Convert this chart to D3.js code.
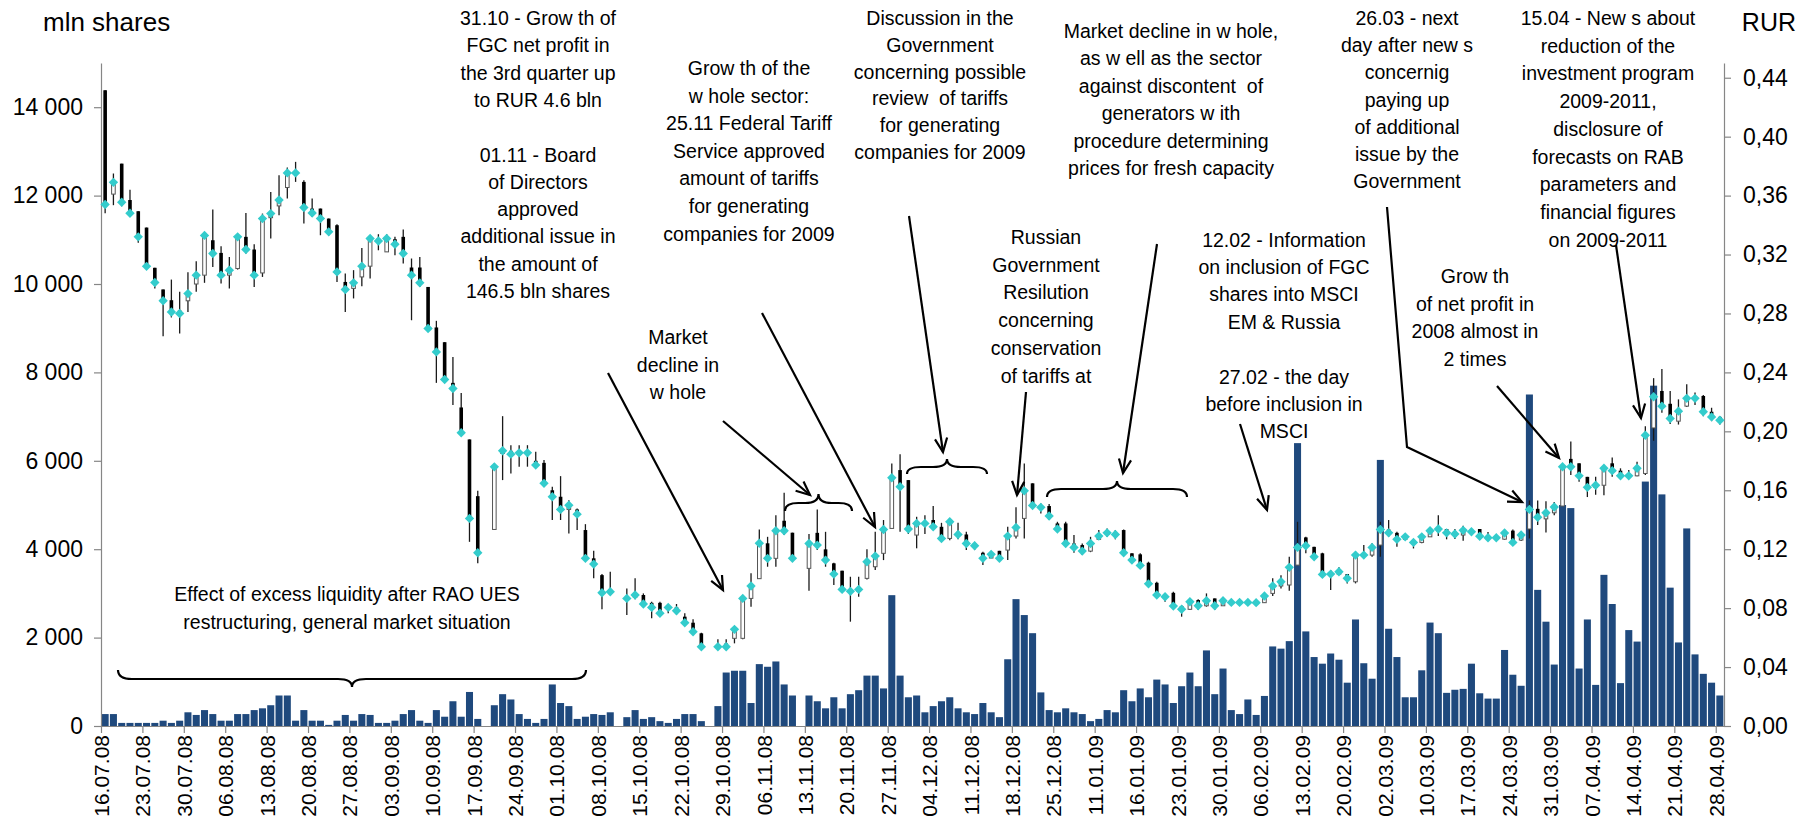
<!DOCTYPE html>
<html><head><meta charset="utf-8">
<script src="https://cdn.jsdelivr.net/npm/d3@7"></script>
<style>
html,body{margin:0;padding:0;background:#fff;}
svg{display:block;font-family:"Liberation Sans",Arial,sans-serif;}
</style></head><body>
<svg id="c" width="1805" height="821"></svg>
<script>
// ---------------- DATA ----------------
const tickLabels = ["16.07.08","23.07.08","30.07.08","06.08.08","13.08.08","20.08.08","27.08.08","03.09.08","10.09.08","17.09.08","24.09.08","01.10.08","08.10.08","15.10.08","22.10.08","29.10.08","06.11.08","13.11.08","20.11.08","27.11.08","04.12.08","11.12.08","18.12.08","25.12.08","11.01.09","16.01.09","23.01.09","30.01.09","06.02.09","13.02.09","20.02.09","02.03.09","10.03.09","17.03.09","24.03.09","31.03.09","07.04.09","14.04.09","21.04.09","28.04.09"];
const leftTicks = [0,2000,4000,6000,8000,10000,12000,14000];
const rightTicks = [0,0.04,0.08,0.12,0.16,0.20,0.24,0.28,0.32,0.36,0.40,0.44];

// trading volume, mln shares (null = trading suspended)
const volume = [
270,270,70,70,70,70,70,120,70,120,
310,250,360,270,120,120,270,270,360,400,
470,690,690,120,360,120,120,25,120,250,
120,270,250,70,70,120,270,360,120,70,
360,210,560,210,770,160,null,470,720,600,
270,160,70,160,940,520,450,160,210,270,
250,310,null,200,360,160,200,110,70,160,
270,270,110,null,450,1210,1250,1250,520,1400,
1340,1460,940,690,null,690,560,400,650,400,
720,810,1140,1140,850,2960,1140,650,690,310,
450,560,650,400,310,270,520,310,200,1510,
2870,2510,2100,760,360,310,400,310,270,110,
160,360,310,810,560,850,650,1050,940,520,
900,1210,900,1710,720,1300,360,270,600,250,
680,1800,1750,1920,6400,2140,1560,1410,1640,1500,
980,2410,1420,1070,6020,2200,1560,650,650,1260,
2340,2100,750,820,840,1410,740,620,620,1720,
1160,910,7500,3080,2360,1390,5000,4930,1300,2410,
930,3420,2760,970,2170,1910,5530,7700,5240,3130,
1890,4470,1620,1180,980,690];

// share price, RUR
const priceOpen = [
.4315,.361,.3817,.357,.3494,.3383,.311,.2963,.289,.282,
.2886,.300,.306,.3297,.3211,.306,.3105,.332,.3234,.3075,
.345,.353,.3655,.3754,.3693,.3512,.3512,.3444,.3399,.3014,
.297,.3048,.3121,.3309,.3218,.3304,.332,.3112,.3112,.298,
.2705,.2605,.2329,.2162,.1945,.156,null,.1334,.185,.1868,
.1845,.1854,.18,.1786,.16,.1556,.147,.147,.133,.1138,
.1024,.0904,null,.0882,.0875,.0889,.0836,.0836,.080,.0805,
.0742,.0701,.0629,null,.0538,.056,.0595,.0595,.0866,.100,
.124,.1138,.1393,.1312,null,.107,.1311,.1199,.1104,.1054,
.0923,.0914,.1002,.1081,.1172,.1341,.1737,.1669,.1296,.1375,
.1398,.1352,.1273,.1318,.13,.1239,.1176,.114,.1189,.1194,
.1289,.1409,.1647,.1497,.1493,.1375,.1375,.1239,.1228,.1187,
.1267,.13,.1311,.133,.1172,.1165,.1108,.0972,.0889,.0904,
.0814,.0792,.0855,.0816,.0866,.0816,.085,.0839,.0839,.0837,
.0837,.09,.095,.0957,.1092,.128,.1216,.1172,.1029,.1031,
.1031,.0979,.116,.116,.1228,.1334,.1311,.1267,.1262,.1246,
.1284,.1325,.1337,.1311,.1296,.1328,.1337,.128,.1268,.1268,
.1326,.1262,.1337,.1474,.1406,.1447,.1493,.1813,.1783,.1691,
.162,.1634,.1783,.1733,.1698,.1698,.1714,.2023,.2274,.2187,
.2069,.2171,.2224,.224,.2133,.2098];
const priceHigh = [
.4315,.375,.3817,.364,.3494,.3383,.311,.2963,.303,.2947,
.308,.3155,.3343,.3505,.3256,.3184,.3338,.3482,.327,.3478,
.3625,.3738,.379,.3829,.3704,.358,.3512,.3444,.3406,.3071,
.3094,.3245,.332,.3338,.3338,.332,.337,.3173,.3184,.298,
.275,.2605,.2505,.2261,.1945,.1596,null,.1782,.2103,.1906,
.1906,.1906,.1861,.1805,.1624,.1696,.1533,.1477,.137,.1189,
.1031,.1047,null,.0934,.1002,.09,.0843,.0843,.0821,.0828,
.0765,.0724,.0633,null,.0588,.0588,.0674,.0889,.1036,.1334,
.1284,.1431,.1583,.1312,null,.1303,.147,.1318,.1108,.1054,
.1013,.1013,.1199,.1318,.1398,.1782,.1845,.1669,.142,.1431,
.1493,.1379,.1409,.1379,.1318,.125,.1183,.1183,.1189,.1352,
.1484,.1782,.1647,.1511,.1506,.1386,.1386,.1296,.1239,.1284,
.133,.1341,.133,.1334,.1172,.1172,.1115,.0979,.09,.0911,
.0821,.0866,.086,.09,.0866,.0873,.0855,.0855,.0855,.085,
.09,.1002,.1024,.1149,.1386,.1284,.1216,.1176,.1058,.1077,
.1031,.1183,.1228,.124,.1386,.1398,.1318,.130,.1262,.1307,
.1341,.1431,.1337,.1337,.136,.1337,.1337,.1317,.129,.1333,
.1333,.1317,.1531,.1531,.1525,.152,.177,.1931,.1783,.1691,
.1691,.1771,.1822,.1749,.1737,.1794,.2034,.2361,.2423,.2274,
.2217,.232,.2263,.2247,.216,.2103];
const priceLow = [
.348,.3535,.3528,.3455,.328,.3105,.297,.2646,.2773,.2664,
.281,.2947,.3008,.3116,.3003,.297,.3098,.3207,.298,.3048,
.3309,.3467,.358,.3693,.341,.3455,.3331,.333,.3014,.281,
.2902,.2985,.3037,.3229,.3218,.3195,.3139,.2754,.298,.2698,
.2329,.2336,.2178,.1986,.125,.1104,null,.1334,.1669,.1714,
.1759,.176,.1759,.1624,.1398,.1398,.1307,.133,.1126,.1002,
.0792,.0889,null,.0753,.086,.0814,.0731,.0742,.0765,.0758,
.0678,.0617,.0516,null,.0516,.0516,.0561,.0589,.0809,.100,
.1081,.1081,.1296,.1138,null,.0918,.1194,.1081,.0957,.0914,
.0708,.0877,.0995,.1058,.1126,.1341,.1318,.1303,.1206,.1303,
.133,.1262,.126,.1267,.1194,.1194,.1092,.114,.1121,.1126,
.1273,.1273,.1477,.1443,.1398,.1318,.1239,.1176,.116,.118,
.1262,.1284,.1267,.116,.1108,.107,.0957,.0877,.0843,.0792,
.0742,.0787,.0787,.081,.0787,.0816,.0821,.0821,.0821,.082,
.0837,.0882,.0934,.0918,.1092,.1172,.1126,.1029,.0923,.1031,
.0968,.0968,.1149,.1149,.1149,.1284,.1216,.1262,.1205,.124,
.1284,.1289,.1267,.127,.1257,.1296,.1264,.1257,.1257,.1265,
.1223,.1255,.1273,.1365,.1314,.143,.1493,.1703,.1657,.1554,
.157,.1566,.1691,.168,.168,.1695,.1703,.1936,.2126,.205,
.2046,.2165,.2178,.2103,.2069,.2046];
const priceClose = [
.354,.369,.3555,.348,.332,.312,.301,.2886,.281,.280,
.2935,.306,.333,.3207,.306,.3094,.332,.3234,.306,.3444,
.3478,.357,.3754,.3754,.3519,.3482,.3444,.3354,.3082,.2963,
.3008,.3121,.3309,.3292,.3309,.327,.3207,.306,.3008,.2698,
.2539,.2352,.2291,.199,.1409,.1176,null,.1759,.1868,.1845,
.1854,.1854,.1771,.1647,.1556,.147,.1499,.1438,.1138,.1099,
.0904,.0911,null,.0866,.0889,.0828,.0805,.0765,.0805,.0782,
.0701,.064,.0538,null,.0538,.0538,.0656,.0866,.095,.124,
.1138,.1325,.1325,.1138,null,.1239,.1228,.1126,.1031,.0927,
.0914,.0927,.1115,.1153,.1334,.1685,.1624,.1337,.1375,.1375,
.1352,.1273,.1386,.13,.1239,.1223,.1138,.1165,.1138,.1289,
.1348,.1596,.1497,.1484,.1425,.1337,.1239,.1212,.1187,.1239,
.1289,.1311,.13,.1176,.1126,.109,.0965,.0889,.0877,.0814,
.0792,.0843,.0816,.085,.0816,.085,.0839,.0839,.0839,.0837,
.0882,.095,.0979,.1077,.1212,.1223,.1149,.1029,.1031,.1047,
.1002,.116,.116,.1212,.1334,.1311,.1267,.1284,.1246,.1284,
.1325,.1337,.1311,.1303,.1328,.1318,.1288,.1278,.1278,.131,
.1246,.1296,.147,.1417,.1447,.1486,.176,.176,.1698,.162,
.1634,.1749,.1733,.1698,.1698,.1749,.1973,.2235,.2171,.2087,
.2137,.2224,.2224,.2133,.2098,.2075];

// annotation texts
const notes = [
  {x:538, y:18, dy:27.3, lines:["31.10 - Grow th of","FGC net profit in","the 3rd quarter up","to RUR 4.6 bln","","01.11 - Board","of Directors","approved","additional issue in","the amount of","146.5 bln shares"]},
  {x:749, y:68, dy:27.6, lines:["Grow th of the","w hole sector:","25.11 Federal Tariff","Service approved","amount of tariffs","for generating","companies for 2009"]},
  {x:940, y:18, dy:26.8, lines:["Discussion in the","Government","concerning possible","review  of tariffs","for generating","companies for 2009"]},
  {x:1171, y:31, dy:27.4, lines:["Market decline in w hole,","as w ell as the sector","against discontent  of","generators w ith","procedure determining","prices for fresh capacity"]},
  {x:1407, y:18, dy:27.2, lines:["26.03 - next","day after new s","concernig","paying up","of additional","issue by the","Government"]},
  {x:1608, y:18, dy:27.7, lines:["15.04 - New s about","reduction of the","investment program","2009-2011,","disclosure of","forecasts on RAB","parameters and","financial figures","on 2009-2011"]},
  {x:678, y:337, dy:27.5, lines:["Market","decline in","w hole"]},
  {x:347, y:594, dy:28, lines:["Effect of excess liquidity after RAO UES","restructuring, general market situation"]},
  {x:1046, y:237, dy:27.7, lines:["Russian","Government","Resilution","concerning","conservation","of tariffs at"]},
  {x:1284, y:240, dy:27.2, lines:["12.02 - Information","on inclusion of FGC","shares into MSCI","EM & Russia"]},
  {x:1284, y:377, dy:27.2, lines:["27.02 - the day","before inclusion in","MSCI"]},
  {x:1475, y:276, dy:27.6, lines:["Grow th","of net profit in","2008 almost in","2 times"]}
];
const arrows = [
  [[608,373],[723,590]],
  [[723,421],[810,495]],
  [[762,313],[875,527]],
  [[909,216],[943,452]],
  [[1026,392],[1017,495]],
  [[1157,244],[1123,473]],
  [[1240,424],[1267,510]],
  [[1387,207],[1407,447],[1522,502]],
  [[1497,386],[1559,458]],
  [[1616,245],[1641,418]]
];
const braces = [
  {x1:118, x2:586, y:679, dir:1, h:9, p:8},
  {x1:785, x2:852, y:503, dir:-1, h:8, p:9},
  {x1:907, x2:987, y:467, dir:-1, h:7, p:8},
  {x1:1047, x2:1187, y:489, dir:-1, h:8, p:8}
];

// ---------------- CHART ----------------
const plot = {left:101, right:1724, top:63, bottom:726};
const svg = d3.select('#c');
const n = volume.length;
const x = d3.scaleBand().domain(d3.range(n)).range([plot.left, plot.right]).paddingInner(0.15).paddingOuter(0.075);
const xTick = d3.scaleLinear().domain([0, n]).range([plot.left, plot.right]);
const yL = d3.scaleLinear().domain([0, 15000]).range([plot.bottom, plot.top]);
const yR = d3.scaleLinear().domain([0, 0.45]).range([plot.bottom, plot.top]);
const loc = d3.formatLocale({decimal:",", thousands:" ", grouping:[3], currency:["",""]});
const fmtL = loc.format(",d"), fmtR = loc.format(".2f");

// volume bars
svg.append('g').selectAll('rect')
  .data(d3.range(n).filter(i => volume[i] != null))
  .join('rect')
  .attr('x', i => x(i)).attr('width', x.bandwidth())
  .attr('y', i => yL(volume[i])).attr('height', i => yL(0) - yL(volume[i]))
  .attr('fill', '#1F497D');

// axes
const axisColor = '#868686';
const gL = svg.append('g').attr('transform', `translate(${plot.left},0)`)
  .call(d3.axisLeft(yL).tickValues(leftTicks).tickFormat(fmtL).tickSize(7).tickSizeOuter(0).tickPadding(11));
const gR = svg.append('g').attr('transform', `translate(${plot.right},0)`)
  .call(d3.axisRight(yR).tickValues(rightTicks).tickFormat(fmtR).tickSize(7).tickSizeOuter(0).tickPadding(12));
const gX = svg.append('g').attr('transform', `translate(0,${plot.bottom})`)
  .call(d3.axisBottom(xTick).tickValues(d3.range(0, n, 5)).tickFormat((d, i) => tickLabels[i]).tickSize(7).tickSizeOuter(0));
[gL, gR, gX].forEach(g => {
  g.select('.domain').attr('stroke', axisColor).attr('stroke-width', 1.2);
  g.selectAll('.tick line').attr('stroke', axisColor).attr('stroke-width', 1.2);
  g.selectAll('text').attr('fill', '#000').attr('font-family', '"Liberation Sans",Arial,sans-serif');
});
gL.selectAll('text').attr('font-size', 23);
gR.selectAll('text').attr('font-size', 23);
gX.selectAll('text').attr('font-size', 21)
  .attr('transform', 'rotate(-90)').attr('text-anchor', 'end')
  .attr('x', -9).attr('y', 0).attr('dy', '0.36em');

// candles
const days = d3.range(n).filter(i => priceClose[i] != null);
const cx = i => x(i) + x.bandwidth() / 2;
const gc = svg.append('g');
gc.selectAll('line').data(days).join('line')
  .attr('x1', cx).attr('x2', cx)
  .attr('y1', i => yR(priceHigh[i])).attr('y2', i => yR(priceLow[i]))
  .attr('stroke', '#1a1a1a').attr('stroke-width', 1.3);
gc.selectAll('rect').data(days).join('rect')
  .attr('x', i => cx(i) - 1.8).attr('width', 3.6)
  .attr('y', i => yR(Math.max(priceOpen[i], priceClose[i])))
  .attr('height', i => Math.max(1, Math.abs(yR(priceOpen[i]) - yR(priceClose[i]))))
  .attr('fill', i => priceClose[i] >= priceOpen[i] ? '#fff' : '#000')
  .attr('stroke', i => priceClose[i] >= priceOpen[i] ? '#555' : 'none')
  .attr('stroke-width', 1);
gc.selectAll('path').data(days).join('path')
  .attr('d', d3.symbol(d3.symbolSquare, 44))
  .attr('transform', i => `translate(${cx(i)},${yR(priceClose[i])}) rotate(45)`)
  .attr('fill', '#33CCCC');

// axis titles
svg.append('text').attr('x', 43).attr('y', 31).attr('font-size', 26).text('mln shares');
svg.append('text').attr('x', 1796).attr('y', 31).attr('text-anchor', 'end').attr('font-size', 25).text('RUR');

// annotations
const ga = svg.append('g').attr('font-size', 19.5).attr('text-anchor', 'middle').attr('fill', '#000');
notes.forEach(nt => {
  nt.lines.forEach((ln, k) => {
    if (!ln) return;
    ga.append('text').attr('x', nt.x).attr('y', nt.y + k * nt.dy + 7).attr('xml:space', 'preserve').style('white-space', 'pre').text(ln);
  });
});
const line = d3.line();
arrows.forEach(pts => {
  ga.append('path').attr('d', line(pts)).attr('fill', 'none').attr('stroke', '#000').attr('stroke-width', 2.2);
  const [a, b] = pts.slice(-2);
  const ang = Math.atan2(b[1] - a[1], b[0] - a[0]);
  const L = 15, w = 0.42;
  const p1 = [b[0] - L * Math.cos(ang - w), b[1] - L * Math.sin(ang - w)];
  const p2 = [b[0] - L * Math.cos(ang + w), b[1] - L * Math.sin(ang + w)];
  ga.append('path').attr('d', line([p1, b, p2])).attr('fill', 'none').attr('stroke', '#000').attr('stroke-width', 2.2);
});
braces.forEach(b => {
  const xm = (b.x1 + b.x2) / 2, r = Math.min(14, (b.x2 - b.x1) / 5), y = b.y, d = b.dir;
  const path = `M${b.x1},${y - d*b.h} Q${b.x1},${y} ${b.x1 + r},${y} L${xm - r},${y} Q${xm},${y} ${xm},${y + d*b.p} Q${xm},${y} ${xm + r},${y} L${b.x2 - r},${y} Q${b.x2},${y} ${b.x2},${y - d*b.h}`;
  ga.append('path').attr('d', path).attr('fill', 'none').attr('stroke', '#000').attr('stroke-width', 2.2);
});
</script>
</body></html>
